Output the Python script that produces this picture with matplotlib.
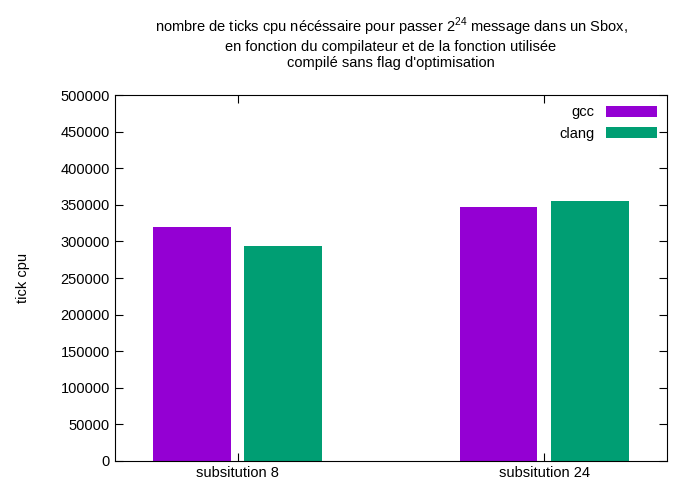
import matplotlib
matplotlib.use("Agg")
import matplotlib.pyplot as plt
import numpy as np

plt.rcParams['font.family'] = ['Liberation Sans', 'DejaVu Sans']
plt.rcParams['mathtext.fontset'] = 'custom'
plt.rcParams['mathtext.rm'] = 'Liberation Sans'

groups = ["subsitution 8", "subsitution 24"]
gcc = [320000, 347000]
clang = [294000, 355000]

fig = plt.figure(figsize=(7, 5), dpi=100)
ax = fig.add_axes([0.164, 0.078, 0.789, 0.732])

x = np.arange(len(groups))
w = 0.253
ax.bar(x - 0.149, gcc, w, color='#9400d3', label='gcc')
ax.bar(x + 0.149, clang, w, color='#009e73', label='clang')

ax.set_xlim(-0.4, 1.4)
ax.set_ylim(0, 500000)
ax.set_yticks(np.arange(0, 500001, 50000))
ax.set_xticks(x)
ax.set_xticklabels(groups)
ax.tick_params(direction='in', top=True, right=True, labelsize=10.5, length=6)
ax.set_ylabel('tick cpu', fontsize=10.5, labelpad=22)

ax.set_title("nombre de ticks cpu nécéssaire pour passer $2^{24}$ message dans un Sbox,\n"
             "en fonction du compilateur et de la fonction utilisée\n"
             "compilé sans flag d'optimisation", fontsize=10.5, pad=20)

leg = ax.legend(loc='upper right', frameon=False, fontsize=10.5, markerfirst=False,
                handlelength=3.5, handleheight=0.8, borderaxespad=0.3)

fig.savefig('out.png', dpi=100)
